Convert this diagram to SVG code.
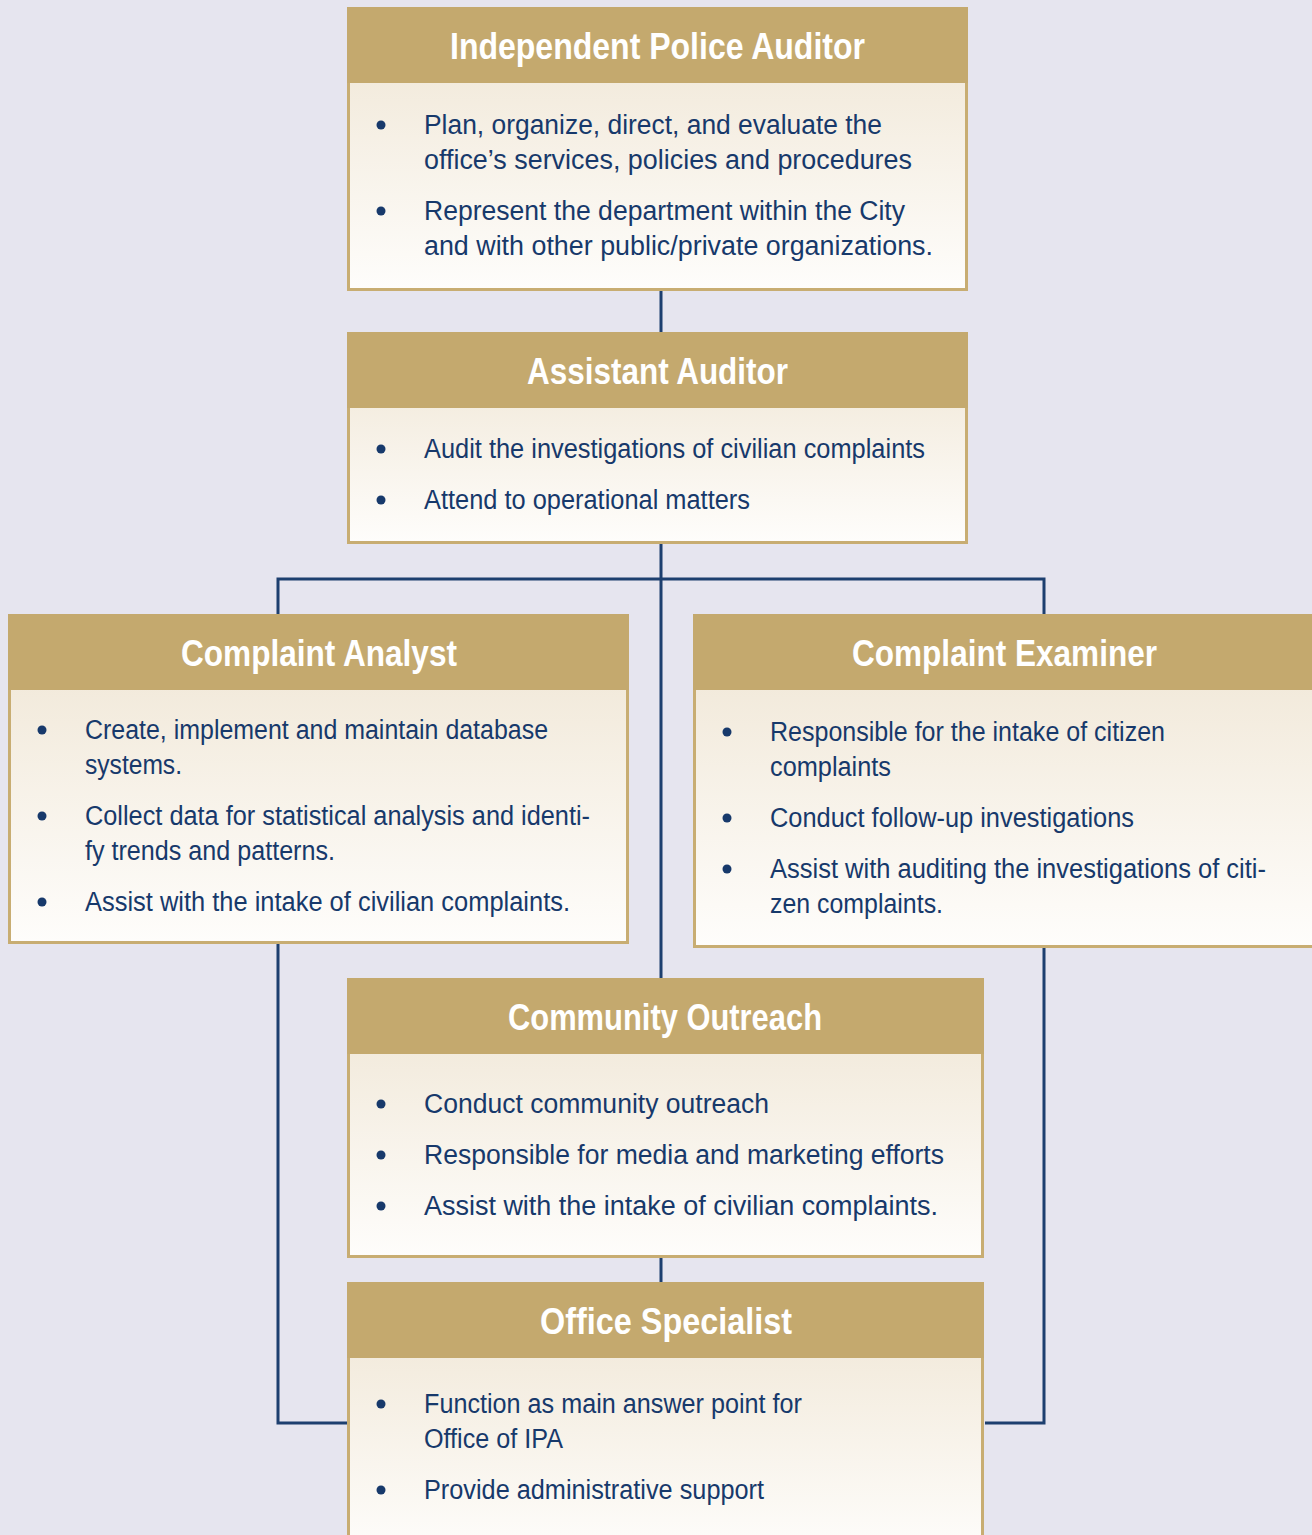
<svg xmlns="http://www.w3.org/2000/svg" width="1312" height="1535" viewBox="0 0 1312 1535">
<defs>
<linearGradient id="bodyGrad" x1="0" y1="0" x2="0" y2="1">
<stop offset="0" stop-color="#efe5d3"/>
<stop offset="1" stop-color="#fefdfb"/>
</linearGradient>
<style>
.body{fill:url(#bodyGrad);stroke:#c8ad72;stroke-width:3}
.head{fill:#c4a96e}
.title{font-family:"Liberation Sans Narrow","Liberation Sans",Arial,sans-serif;font-weight:bold;font-size:36px;fill:#ffffff}
.txt{font-family:"Liberation Sans Narrow","Liberation Sans",Arial,sans-serif;font-size:27px;fill:#17396b}
.dot{fill:#17396b}
.conn{fill:none;stroke:#1d3f6f;stroke-width:3}
</style>
</defs>
<rect width="1312" height="1535" fill="#e6e5ef"/>
<g id="connectors">
<line class="conn" x1="661" y1="291" x2="661" y2="332"/>
<line class="conn" x1="661" y1="544" x2="661" y2="978"/>
<polyline class="conn" points="278,614 278,579 1044,579 1044,614"/>
<polyline class="conn" points="278,944 278,1423 347,1423"/>
<polyline class="conn" points="1044,948 1044,1423 985,1423"/>
<line class="conn" x1="661" y1="1258" x2="661" y2="1282"/>
</g>
<g id="ipa">
<rect class="body" x="348.5" y="8.5" width="618" height="281"/>
<rect class="head" x="347" y="7" width="621" height="76"/>
<text class="title" x="450" y="59" textLength="415" lengthAdjust="spacingAndGlyphs">Independent Police Auditor</text>
<circle class="dot" cx="381" cy="125" r="4.5"/>
<text class="txt" x="424" y="134" textLength="458" lengthAdjust="spacingAndGlyphs">Plan, organize, direct, and evaluate the</text>
<text class="txt" x="424" y="169" textLength="488" lengthAdjust="spacingAndGlyphs">office’s services, policies and procedures</text>
<circle class="dot" cx="381" cy="211" r="4.5"/>
<text class="txt" x="424" y="220" textLength="481" lengthAdjust="spacingAndGlyphs">Represent the department within the City</text>
<text class="txt" x="424" y="255" textLength="509" lengthAdjust="spacingAndGlyphs">and with other public/private organizations.</text>
</g>
<g id="assistant-auditor">
<rect class="body" x="348.5" y="333.5" width="618" height="209"/>
<rect class="head" x="347" y="332" width="621" height="76"/>
<text class="title" x="527" y="384" textLength="261" lengthAdjust="spacingAndGlyphs">Assistant Auditor</text>
<circle class="dot" cx="381" cy="449" r="4.5"/>
<text class="txt" x="424" y="458" textLength="501" lengthAdjust="spacingAndGlyphs">Audit the investigations of civilian complaints</text>
<circle class="dot" cx="381" cy="500" r="4.5"/>
<text class="txt" x="424" y="509" textLength="326" lengthAdjust="spacingAndGlyphs">Attend to operational matters</text>
</g>
<g id="complaint-analyst">
<rect class="body" x="9.5" y="615.5" width="618" height="327"/>
<rect class="head" x="8" y="614" width="621" height="76"/>
<text class="title" x="181" y="666" textLength="276" lengthAdjust="spacingAndGlyphs">Complaint Analyst</text>
<circle class="dot" cx="42" cy="730" r="4.5"/>
<text class="txt" x="85" y="739" textLength="463" lengthAdjust="spacingAndGlyphs">Create, implement and maintain database</text>
<text class="txt" x="85" y="774" textLength="97" lengthAdjust="spacingAndGlyphs">systems.</text>
<circle class="dot" cx="42" cy="816" r="4.5"/>
<text class="txt" x="85" y="825" textLength="505" lengthAdjust="spacingAndGlyphs">Collect data for statistical analysis and identi-</text>
<text class="txt" x="85" y="860" textLength="250" lengthAdjust="spacingAndGlyphs">fy trends and patterns.</text>
<circle class="dot" cx="42" cy="902" r="4.5"/>
<text class="txt" x="85" y="911" textLength="485" lengthAdjust="spacingAndGlyphs">Assist with the intake of civilian complaints.</text>
</g>
<g id="complaint-examiner">
<rect class="body" x="694.5" y="615.5" width="630" height="331"/>
<rect class="head" x="693" y="614" width="630" height="76"/>
<text class="title" x="852" y="666" textLength="305" lengthAdjust="spacingAndGlyphs">Complaint Examiner</text>
<circle class="dot" cx="727" cy="732" r="4.5"/>
<text class="txt" x="770" y="741" textLength="395" lengthAdjust="spacingAndGlyphs">Responsible for the intake of citizen</text>
<text class="txt" x="770" y="776" textLength="121" lengthAdjust="spacingAndGlyphs">complaints</text>
<circle class="dot" cx="727" cy="818" r="4.5"/>
<text class="txt" x="770" y="827" textLength="364" lengthAdjust="spacingAndGlyphs">Conduct follow-up investigations</text>
<circle class="dot" cx="727" cy="869" r="4.5"/>
<text class="txt" x="770" y="878" textLength="496" lengthAdjust="spacingAndGlyphs">Assist with auditing the investigations of citi-</text>
<text class="txt" x="770" y="913" textLength="173" lengthAdjust="spacingAndGlyphs">zen complaints.</text>
</g>
<g id="community-outreach">
<rect class="body" x="348.5" y="979.5" width="634" height="277"/>
<rect class="head" x="347" y="978" width="637" height="76"/>
<text class="title" x="508" y="1030" textLength="314" lengthAdjust="spacingAndGlyphs">Community Outreach</text>
<circle class="dot" cx="381" cy="1104" r="4.5"/>
<text class="txt" x="424" y="1113" textLength="345" lengthAdjust="spacingAndGlyphs">Conduct community outreach</text>
<circle class="dot" cx="381" cy="1155" r="4.5"/>
<text class="txt" x="424" y="1164" textLength="520" lengthAdjust="spacingAndGlyphs">Responsible for media and marketing efforts</text>
<circle class="dot" cx="381" cy="1206" r="4.5"/>
<text class="txt" x="424" y="1215" textLength="514" lengthAdjust="spacingAndGlyphs">Assist with the intake of civilian complaints.</text>
</g>
<g id="office-specialist">
<rect class="body" x="348.5" y="1283.5" width="634" height="270"/>
<rect class="head" x="347" y="1282" width="637" height="76"/>
<text class="title" x="540" y="1334" textLength="252" lengthAdjust="spacingAndGlyphs">Office Specialist</text>
<circle class="dot" cx="381" cy="1404" r="4.5"/>
<text class="txt" x="424" y="1413" textLength="378" lengthAdjust="spacingAndGlyphs">Function as main answer point for</text>
<text class="txt" x="424" y="1448" textLength="139" lengthAdjust="spacingAndGlyphs">Office of IPA</text>
<circle class="dot" cx="381" cy="1490" r="4.5"/>
<text class="txt" x="424" y="1499" textLength="340" lengthAdjust="spacingAndGlyphs">Provide administrative support</text>
</g>
</svg>
